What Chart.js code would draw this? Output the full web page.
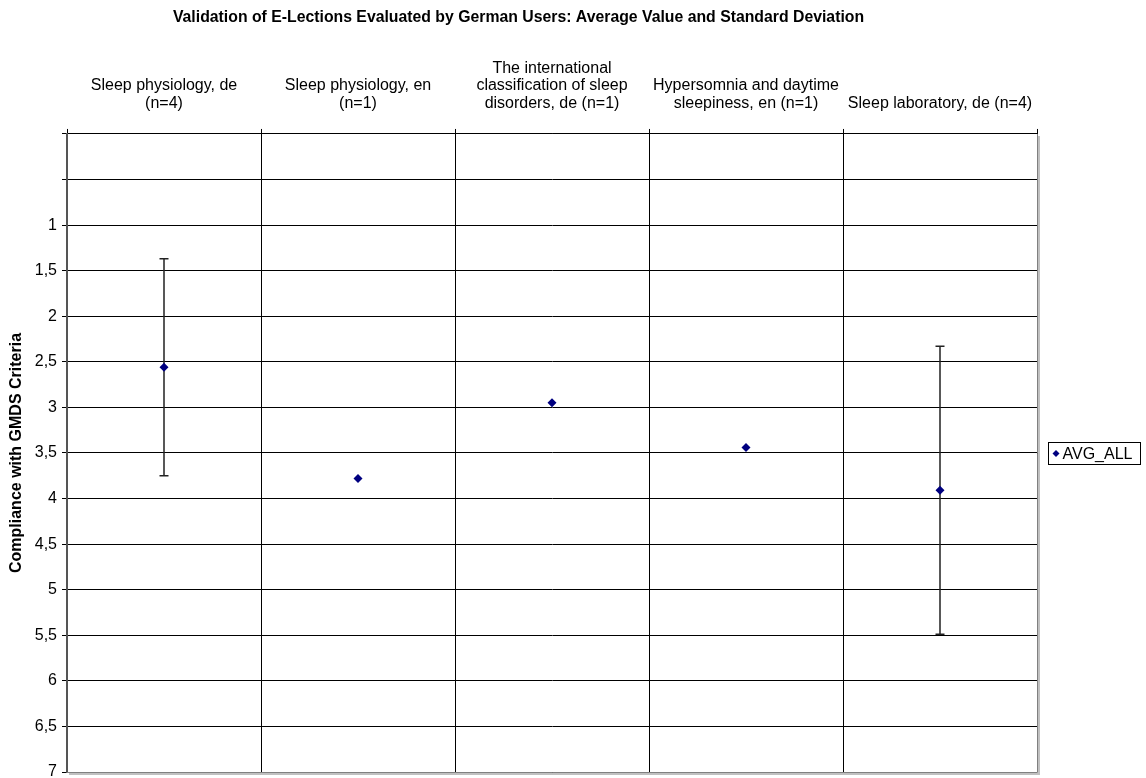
<!DOCTYPE html>
<html>
<head>
<meta charset="utf-8">
<script src="https://cdn.jsdelivr.net/npm/chart.js@4.4.1/dist/chart.umd.min.js"></script>
<style>
  html, body { margin: 0; padding: 0; background: #fff; }
  canvas { display: block; }
</style>
</head>
<body>
<canvas id="chart" width="1146" height="778"></canvas>
<script>
const categories = [
  ['Sleep physiology, de', '(n=4)'],
  ['Sleep physiology, en', '(n=1)'],
  ['The international', 'classification of sleep', 'disorders, de (n=1)'],
  ['Hypersomnia and daytime', 'sleepiness, en (n=1)'],
  ['Sleep laboratory, de (n=4)']
];
const avgAll = [2.56, 3.78, 2.95, 3.44, 3.91];
const stdDev = [1.19, null, null, null, 1.58];
const seriesName = 'AVG_ALL';
const titleText = 'Validation of E-Lections Evaluated by German Users: Average Value and Standard Deviation';
const yTitle = 'Compliance with GMDS Criteria';

const ctx = document.getElementById('chart');
Chart.defaults.font.family = "'Liberation Sans', Arial, sans-serif";
Chart.defaults.font.size = 16;
Chart.defaults.color = '#000';

// error bars, drawn under the markers
const errorBars = {
  id: 'errorBars',
  beforeDatasetsDraw(chart) {
    const c = chart.ctx;
    const xs = chart.scales.x, ys = chart.scales.y;
    c.save();
    c.strokeStyle = '#222';
    c.lineWidth = 1.5;
    stdDev.forEach((sd, i) => {
      if (sd == null) return;
      const x = xs.getPixelForValue(i);
      const yTop = ys.getPixelForValue(avgAll[i] - sd);
      const yBot = ys.getPixelForValue(avgAll[i] + sd);
      c.beginPath();
      c.moveTo(x, yTop);
      c.lineTo(x, yBot);
      c.moveTo(x - 4.5, yTop); c.lineTo(x + 4.5, yTop);
      c.moveTo(x - 4.5, yBot); c.lineTo(x + 4.5, yBot);
      c.stroke();
    });
    c.restore();
  }
};

// plot area frame (right/bottom) and boxed legend on the right
const frameAndLegend = {
  id: 'frameAndLegend',
  afterDraw(chart) {
    const c = chart.ctx;
    const a = chart.chartArea;
    c.save();
    c.strokeStyle = '#c0c0c0';
    c.lineWidth = 2;
    c.beginPath();
    c.moveTo(a.right + 2, a.top + 2);
    c.lineTo(a.right + 2, a.bottom + 2);
    c.lineTo(a.left + 2, a.bottom + 2);
    c.stroke();
    c.strokeStyle = '#808080';
    c.lineWidth = 1;
    c.beginPath();
    c.moveTo(a.right + 0.5, a.top);
    c.lineTo(a.right + 0.5, a.bottom + 0.5);
    c.lineTo(a.left, a.bottom + 0.5);
    c.stroke();

    const midY = Math.round((a.top + a.bottom) / 2);
    const bx = a.right + 11.5, by = midY - 10.5, bw = 92, bh = 22;
    c.strokeStyle = '#000';
    c.lineWidth = 1;
    c.strokeRect(bx, by, bw, bh);
    c.fillStyle = '#000080';
    const px = bx + 7.5, py = midY + 0.5, r = 3.5;
    c.beginPath();
    c.moveTo(px, py - r); c.lineTo(px + r, py); c.lineTo(px, py + r); c.lineTo(px - r, py);
    c.closePath();
    c.fill();
    c.fillStyle = '#000';
    c.font = "16px 'Liberation Sans', Arial, sans-serif";
    c.textBaseline = 'middle';
    c.textAlign = 'left';
    c.fillText(seriesName, bx + 14, py + 1);
    c.restore();
  }
};

new Chart(ctx, {
  type: 'line',
  data: {
    labels: categories,
    datasets: [{
      label: seriesName,
      data: avgAll,
      showLine: false,
      pointStyle: 'rectRot',
      pointRadius: 4.5,
      pointHoverRadius: 4.5,
      backgroundColor: '#000080',
      borderColor: '#000080',
      borderWidth: 0
    }]
  },
  options: {
    responsive: false,
    animation: false,
    events: [],
    layout: { padding: { top: 0, left: 0, right: 109, bottom: 6 } },
    plugins: {
      legend: { display: false },
      tooltip: { enabled: false },
      title: {
        display: true,
        text: titleText,
        font: { size: 15.8, weight: 'bold', lineHeight: 1.2 },
        padding: { top: 8.4, bottom: 0 }
      }
    },
    scales: {
      x: {
        type: 'category',
        position: 'top',
        offset: true,
        grid: {
          offset: true,
          color: '#000',
          lineWidth: 1,
          tickLength: 5,
          drawTicks: true
        },
        border: { color: '#000', width: 1 },
        ticks: {
          autoSkip: false,
          maxRotation: 0,
          padding: 17,
          font: { size: 16, lineHeight: '17.5px' }
        },
        afterFit(scale) {
          scale.height = 106.6;
          scale.paddingLeft = 0;
          scale.paddingRight = 0;
        }
      },
      y: {
        type: 'linear',
        reverse: true,
        min: 0,
        max: 7,
        grid: {
          color: '#000',
          lineWidth: 1,
          tickLength: 5
        },
        border: { color: '#555', width: 2 },
        ticks: {
          stepSize: 0.5,
          padding: 5,
          font: { size: 16 },
          callback: v => v < 1 ? '' : String(v).replace('.', ',')
        },
        title: {
          display: true,
          text: yTitle,
          font: { size: 16, weight: 'bold', lineHeight: 1.2 },
          padding: { top: 7.4, bottom: 0 }
        },
        afterFit(scale) {
          scale.width = 67;
          scale.paddingTop = 0;
          scale.paddingBottom = 0;
        }
      }
    }
  },
  plugins: [errorBars, frameAndLegend]
});
</script>
</body>
</html>
